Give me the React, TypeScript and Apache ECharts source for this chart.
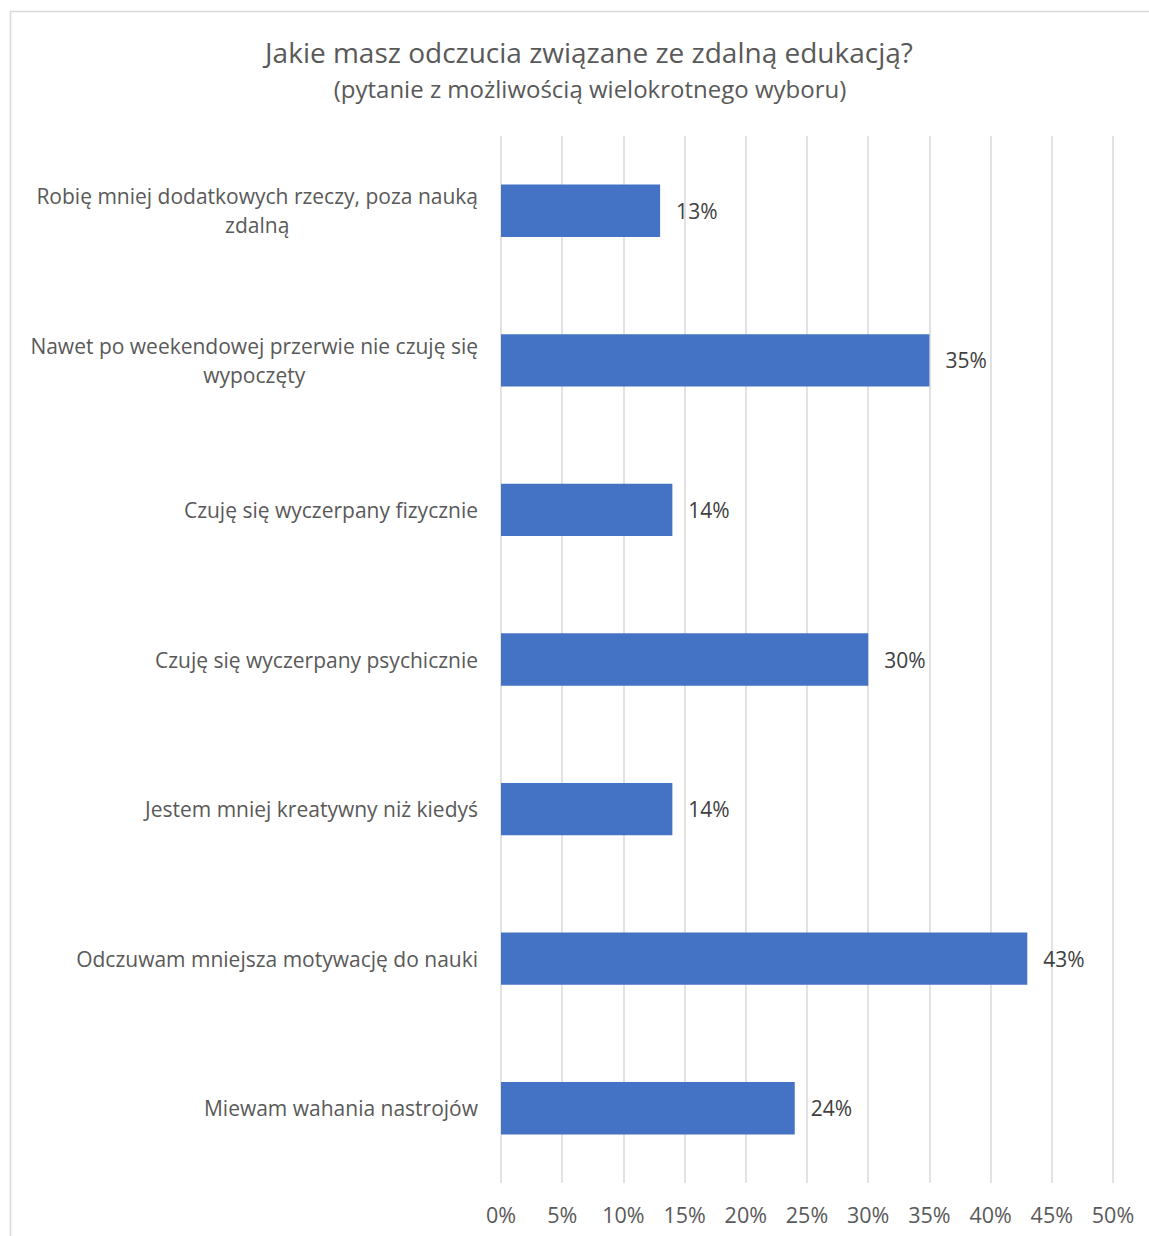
import React, { useEffect, useRef } from "react";
import * as echarts from "echarts";

const titleText = "Jakie masz odczucia związane ze zdalną edukacją?";
const subtitleText = "(pytanie z możliwością wielokrotnego wyboru)";

const categories: string[] = [
  "Robię mniej dodatkowych rzeczy, poza nauką\nzdalną",
  "Nawet po weekendowej przerwie nie czuję się\nwypoczęty",
  "Czuję się wyczerpany fizycznie",
  "Czuję się wyczerpany psychicznie",
  "Jestem mniej kreatywny niż kiedyś",
  "Odczuwam mniejsza motywację do nauki",
  "Miewam wahania nastrojów",
];

const values: number[] = [13, 35, 14, 30, 14, 43, 24];

const axisMax = 50;
const axisStep = 5;

export default function App() {
  const ref = useRef<HTMLDivElement>(null);

  useEffect(() => {
    if (!ref.current) return;
    const chart = echarts.init(ref.current, undefined, { renderer: "svg" });
    const font = "'Open Sans', 'DejaVu Sans', sans-serif";
    chart.setOption({
      animation: false,
      backgroundColor: "#ffffff",
      graphic: [
        {
          type: "rect",
          shape: { x: 10.5, y: 11.5, width: 1300, height: 1400 },
          style: { fill: "none", stroke: "#d9d9d9", lineWidth: 1.5 },
          silent: true,
        },
      ],
      title: [
        {
          text: titleText,
          left: 584,
          top: 33,
          textAlign: "center",
          textStyle: { fontFamily: font, fontSize: 28, fontWeight: "normal", color: "#595959" },
        },
        {
          text: subtitleText,
          left: 585,
          top: 71,
          textAlign: "center",
          textStyle: { fontFamily: font, fontSize: 24, fontWeight: "normal", color: "#595959" },
        },
      ],
      grid: { left: 501, right: 1149 - 1113, top: 136, bottom: 1236 - 1183, containLabel: false },
      xAxis: {
        type: "value",
        min: 0,
        max: axisMax,
        interval: axisStep,
        axisLine: { show: false },
        axisTick: { show: false },
        splitLine: { show: true, lineStyle: { color: "#d9d9d9", width: 1.5 } },
        axisLabel: {
          formatter: (v: number) => `${v}%`,
          fontFamily: font,
          fontSize: 21.5,
          color: "#595959",
          margin: 20,
        },
      },
      yAxis: {
        type: "category",
        inverse: true,
        data: categories,
        axisLine: { show: false },
        axisTick: { show: false },
        splitLine: { show: false },
        axisLabel: {
          align: "right",
          margin: 23,
          fontFamily: font,
          fontSize: 21,
          color: "#595959",
          lineHeight: 29,
          formatter: (v: string) =>
            v
              .split("\n")
              .map((l) => `{c|${l}}`)
              .join("\n"),
          rich: {
            c: { align: "center", fontFamily: font, fontSize: 21, color: "#595959", lineHeight: 29 },
          },
        },
      },
      series: [
        {
          type: "bar",
          data: values,
          barCategoryGap: "65%",
          itemStyle: { color: "#4472C4" },
          label: {
            show: true,
            position: "right",
            distance: 16,
            formatter: (p: any) => `${p.value}%`,
            fontFamily: font,
            fontSize: 21,
            color: "#404040",
          },
        },
      ],
    });
    return () => chart.dispose();
  }, []);

  return (
    <div
      ref={ref}
      style={{ position: "absolute", left: 0, top: 0, width: 1149, height: 1236 }}
    />
  );
}
